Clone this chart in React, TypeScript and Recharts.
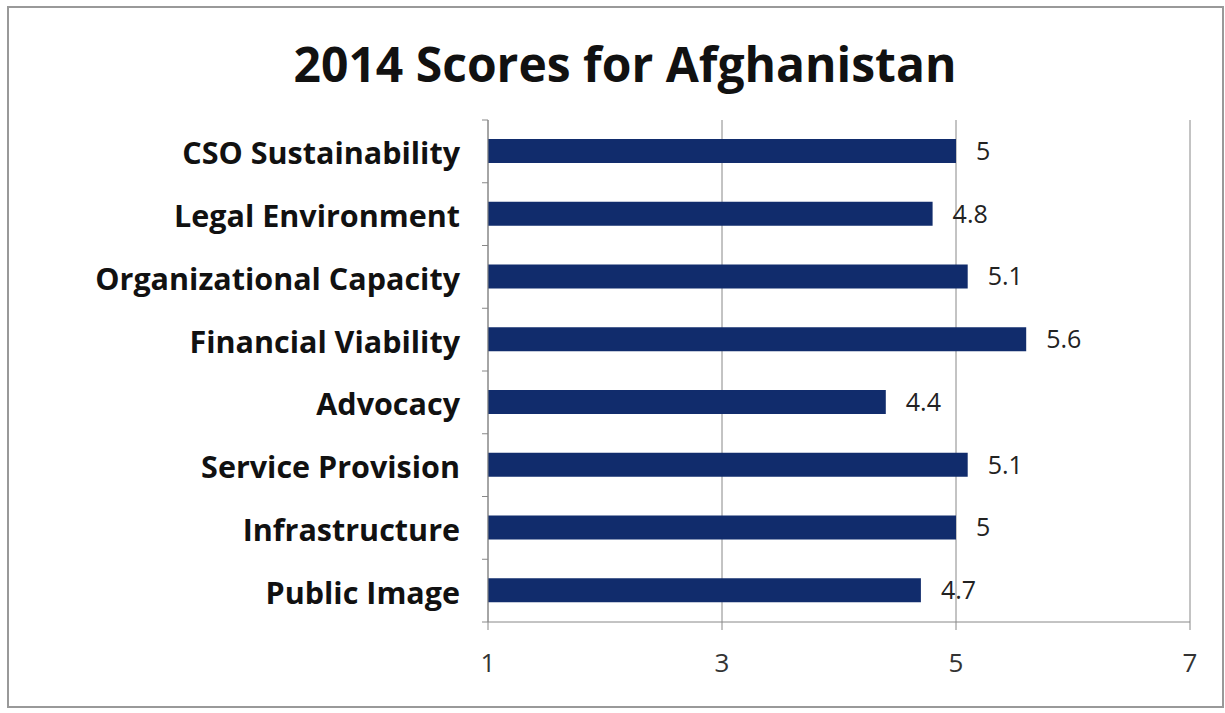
import React from "react";
import {
    BarChart,
    Bar,
    XAxis,
    YAxis,
    CartesianGrid,
    LabelList,
} from "recharts";

// categories, top to bottom
const categories = [
    "CSO Sustainability",
    "Legal Environment",
    "Organizational Capacity",
    "Financial Viability",
    "Advocacy",
    "Service Provision",
    "Infrastructure",
    "Public Image",
];

const scores = [5, 4.8, 5.1, 5.6, 4.4, 5.1, 5, 4.7];

const xTicks = [1, 3, 5, 7];

const data = categories.map((name, i) => ({ name, score: scores[i] }));

const WIDTH = 1225;
const HEIGHT = 713;
const PLOT_TOP = 120;
const PLOT_BOTTOM = 622;
const PLOT_LEFT = 488;
const PLOT_RIGHT = 1190;
const Y_AXIS_WIDTH = 470;

const BAND = (PLOT_BOTTOM - PLOT_TOP) / categories.length;
const FONT = "'Open Sans', Lato, sans-serif";

const CategoryTick = (props: any) => {
    const { x, y, payload, index } = props;
    const last = index === categories.length - 1;
    // x sits one tick length left of the axis line
    return (
        <g>
            <line x1={x + 2} x2={x + 8} y1={y - BAND / 2} y2={y - BAND / 2} stroke="#888" />
            {last && <line x1={x + 2} x2={x + 8} y1={y + BAND / 2} y2={y + BAND / 2} stroke="#888" />}
            <text
                x={x - 20}
                y={y + 1}
                textAnchor="end"
                dominantBaseline="central"
                fontFamily={FONT}
                fontWeight={700}
                fontSize={30.5}
                fill="#111"
            >
                {payload.value}
            </text>
        </g>
    );
};

const App: React.FC = () => {
    return (
        <div style={{ position: "absolute", left: 0, top: 0, width: WIDTH, height: HEIGHT, background: "#fff" }}>
            <div
                style={{
                    position: "absolute",
                    left: 7,
                    top: 6,
                    width: 1213,
                    height: 698,
                    border: "2px solid #999",
                }}
            />
            <div
                style={{
                    position: "absolute",
                    left: 0,
                    top: 32,
                    width: 1250,
                    textAlign: "center",
                    fontFamily: FONT,
                    fontWeight: 700,
                    fontSize: 48,
                    color: "#111",
                    lineHeight: "64px",
                }}
            >
                2014 Scores for Afghanistan
            </div>
            <div style={{ position: "absolute", left: 0, top: 0 }}>
                <BarChart
                    width={WIDTH}
                    height={HEIGHT}
                    data={data}
                    layout="vertical"
                    barCategoryGap={0}
                    margin={{
                        top: PLOT_TOP,
                        bottom: HEIGHT - PLOT_BOTTOM - 30,
                        left: PLOT_LEFT - Y_AXIS_WIDTH,
                        right: WIDTH - PLOT_RIGHT,
                    }}
                >
                    <CartesianGrid horizontal={false} stroke="#888" />
                    <XAxis
                        type="number"
                        domain={[1, 7]}
                        ticks={xTicks}
                        height={30}
                        axisLine={{ stroke: "#888" }}
                        tickLine={{ stroke: "#888" }}
                        tickSize={8}
                        tickMargin={24}
                        tick={{ fontFamily: FONT, fontSize: 26, fill: "#333" }}
                    />
                    <YAxis
                        type="category"
                        dataKey="name"
                        width={Y_AXIS_WIDTH}
                        axisLine={{ stroke: "#888" }}
                        tickLine={false}
                        tick={<CategoryTick />}
                    />
                    <Bar dataKey="score" fill="#112c6c" barSize={24} isAnimationActive={false}>
                        <LabelList
                            dataKey="score"
                            position="right"
                            offset={20}
                            style={{ fontFamily: FONT, fontSize: 25, fill: "#222" }}
                        />
                    </Bar>
                </BarChart>
            </div>
        </div>
    );
};

export default App;
